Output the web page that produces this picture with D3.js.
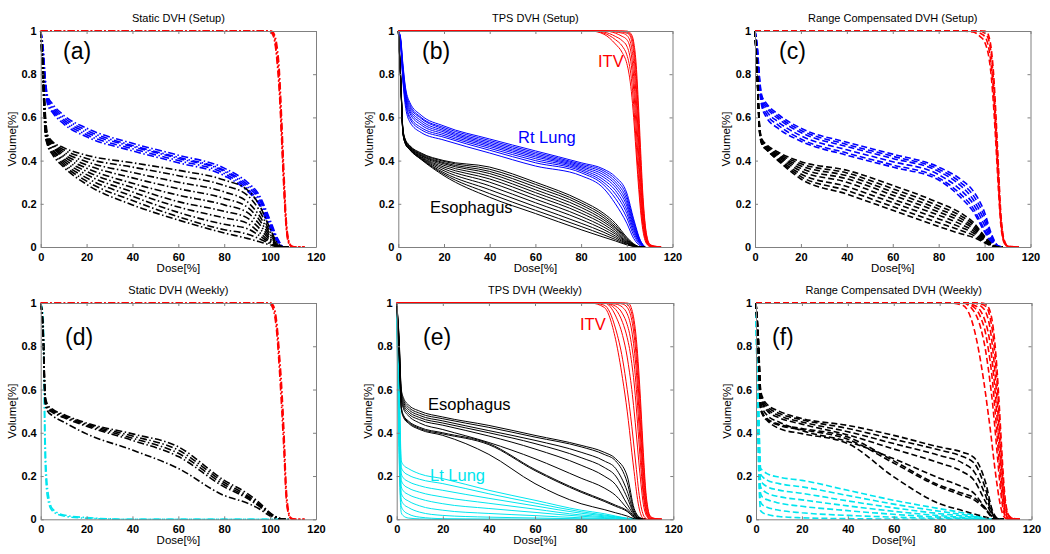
<!DOCTYPE html>
<html><head><meta charset="utf-8">
<script src="https://cdn.jsdelivr.net/npm/d3@7/dist/d3.min.js"></script>
<style>body{margin:0;background:#fff}svg{display:block}</style>
</head><body>
<svg id="chart" width="1050" height="554"></svg>
<script>
// ---------------- DATA ----------------
const xTicks = [0, 20, 40, 60, 80, 100, 120];
const yTicks = [0, 0.2, 0.4, 0.6, 0.8, 1];
const xLabel = "Dose[%]";
const yLabel = "Volume[%]";
const titles = ["Static DVH (Setup)", "TPS DVH (Setup)", "Range Compensated DVH (Setup)",
                "Static DVH (Weekly)", "TPS DVH (Weekly)", "Range Compensated DVH (Weekly)"];
const panelLabels = ["(a)", "(b)", "(c)", "(d)", "(e)", "(f)"];

// dose sampling for organs at risk and for ITV
const oarDose = [0, 1, 2, 3, 5, 10, 20, 40, 60, 80, 90, 95, 100, 103, 106, 108];
const itvDose = [0, 84, 90, 95, 98, 100, 101, 102, 103, 104, 105, 106, 107, 108, 109, 110, 112, 115];

// (a) Static DVH (Setup)
const lungA = [
  [1, 0.93, 0.78, 0.70, 0.665, 0.61, 0.55, 0.48, 0.425, 0.365, 0.30, 0.245, 0.125, 0.045, 0, 0],
  [1, 0.92, 0.77, 0.69, 0.655, 0.60, 0.54, 0.47, 0.415, 0.355, 0.29, 0.235, 0.115, 0.04, 0, 0],
  [1, 0.91, 0.76, 0.68, 0.645, 0.59, 0.53, 0.465, 0.41, 0.35, 0.28, 0.225, 0.105, 0.035, 0, 0],
  [1, 0.90, 0.75, 0.67, 0.635, 0.58, 0.52, 0.455, 0.40, 0.34, 0.27, 0.21, 0.095, 0.03, 0, 0],
  [1, 0.89, 0.74, 0.66, 0.625, 0.57, 0.51, 0.445, 0.39, 0.33, 0.26, 0.20, 0.085, 0.025, 0, 0]
];
const esoA = [
  [1, 0.85, 0.62, 0.52, 0.49, 0.46, 0.425, 0.39, 0.355, 0.31, 0.265, 0.2, 0.085, 0.02, 0, 0],
  [1, 0.84, 0.60, 0.51, 0.485, 0.45, 0.41, 0.37, 0.33, 0.285, 0.24, 0.175, 0.07, 0.015, 0, 0],
  [1, 0.83, 0.59, 0.505, 0.48, 0.44, 0.395, 0.345, 0.30, 0.255, 0.21, 0.15, 0.06, 0.012, 0, 0],
  [1, 0.82, 0.58, 0.50, 0.475, 0.43, 0.38, 0.32, 0.27, 0.225, 0.185, 0.13, 0.05, 0.01, 0, 0],
  [1, 0.81, 0.57, 0.495, 0.47, 0.42, 0.365, 0.295, 0.24, 0.195, 0.16, 0.11, 0.04, 0.008, 0, 0],
  [1, 0.80, 0.56, 0.49, 0.465, 0.41, 0.35, 0.275, 0.21, 0.165, 0.135, 0.09, 0.032, 0.006, 0, 0],
  [1, 0.79, 0.55, 0.485, 0.455, 0.40, 0.335, 0.255, 0.185, 0.135, 0.11, 0.07, 0.025, 0.005, 0, 0],
  [1, 0.78, 0.54, 0.48, 0.45, 0.39, 0.32, 0.235, 0.16, 0.105, 0.085, 0.055, 0.02, 0.004, 0, 0],
  [1, 0.77, 0.53, 0.475, 0.44, 0.38, 0.305, 0.215, 0.14, 0.08, 0.06, 0.04, 0.015, 0.003, 0, 0],
  [1, 0.76, 0.52, 0.47, 0.43, 0.37, 0.29, 0.195, 0.125, 0.065, 0.04, 0.025, 0.01, 0.002, 0, 0]
];
const itvA = [
  [1, 1, 1, 1, 1, 1, 0.995, 0.97, 0.9, 0.78, 0.55, 0.3, 0.1, 0.025, 0.005, 0, 0, 0],
  [1, 1, 1, 1, 1, 0.995, 0.985, 0.95, 0.86, 0.72, 0.5, 0.27, 0.09, 0.02, 0.004, 0, 0, 0],
  [1, 1, 1, 1, 1, 1, 0.998, 0.98, 0.93, 0.82, 0.6, 0.35, 0.13, 0.035, 0.008, 0.002, 0, 0],
  [1, 1, 1, 1, 1, 0.998, 0.99, 0.96, 0.88, 0.75, 0.53, 0.29, 0.11, 0.03, 0.006, 0.001, 0, 0]
];

// (b) TPS DVH (Setup)
const lungB = [
  [1, 0.97, 0.85, 0.75, 0.67, 0.61, 0.56, 0.50, 0.445, 0.39, 0.36, 0.325, 0.25, 0.13, 0.03, 0],
  [1, 0.965, 0.84, 0.74, 0.66, 0.60, 0.553, 0.493, 0.438, 0.384, 0.352, 0.314, 0.235, 0.12, 0.027, 0],
  [1, 0.96, 0.83, 0.73, 0.65, 0.595, 0.546, 0.486, 0.431, 0.378, 0.343, 0.302, 0.22, 0.11, 0.024, 0],
  [1, 0.957, 0.82, 0.72, 0.64, 0.585, 0.539, 0.479, 0.424, 0.372, 0.333, 0.29, 0.205, 0.1, 0.021, 0],
  [1, 0.953, 0.81, 0.71, 0.63, 0.575, 0.532, 0.472, 0.417, 0.366, 0.322, 0.277, 0.19, 0.09, 0.018, 0],
  [1, 0.95, 0.80, 0.70, 0.62, 0.565, 0.524, 0.465, 0.409, 0.359, 0.31, 0.262, 0.172, 0.08, 0.015, 0],
  [1, 0.947, 0.79, 0.69, 0.605, 0.553, 0.516, 0.457, 0.400, 0.352, 0.298, 0.245, 0.155, 0.068, 0.012, 0],
  [1, 0.944, 0.78, 0.68, 0.595, 0.543, 0.508, 0.448, 0.390, 0.344, 0.286, 0.225, 0.135, 0.055, 0.009, 0],
  [1, 0.94, 0.77, 0.66, 0.58, 0.53, 0.495, 0.435, 0.375, 0.33, 0.27, 0.2, 0.11, 0.04, 0.005, 0]
];
const esoB = [
  [1, 0.8, 0.55, 0.5, 0.47, 0.435, 0.40, 0.37, 0.30, 0.215, 0.155, 0.11, 0.045, 0.015, 0, 0],
  [1, 0.8, 0.548, 0.498, 0.468, 0.432, 0.396, 0.36, 0.29, 0.205, 0.145, 0.10, 0.04, 0.013, 0, 0],
  [1, 0.8, 0.545, 0.495, 0.465, 0.428, 0.39, 0.35, 0.278, 0.195, 0.135, 0.092, 0.036, 0.011, 0, 0],
  [1, 0.795, 0.543, 0.493, 0.463, 0.425, 0.385, 0.34, 0.265, 0.183, 0.125, 0.085, 0.032, 0.01, 0, 0],
  [1, 0.79, 0.54, 0.49, 0.46, 0.422, 0.378, 0.328, 0.252, 0.17, 0.115, 0.077, 0.028, 0.009, 0, 0],
  [1, 0.79, 0.538, 0.488, 0.458, 0.418, 0.37, 0.315, 0.238, 0.157, 0.104, 0.068, 0.024, 0.008, 0, 0],
  [1, 0.785, 0.536, 0.486, 0.456, 0.415, 0.362, 0.3, 0.222, 0.142, 0.092, 0.06, 0.021, 0.006, 0, 0],
  [1, 0.785, 0.534, 0.484, 0.454, 0.412, 0.353, 0.283, 0.205, 0.127, 0.08, 0.051, 0.018, 0.005, 0, 0],
  [1, 0.78, 0.532, 0.482, 0.452, 0.409, 0.344, 0.265, 0.187, 0.11, 0.068, 0.043, 0.015, 0.004, 0, 0],
  [1, 0.78, 0.531, 0.481, 0.451, 0.407, 0.337, 0.247, 0.17, 0.095, 0.056, 0.035, 0.012, 0.003, 0, 0],
  [1, 0.78, 0.53, 0.48, 0.45, 0.405, 0.33, 0.23, 0.155, 0.08, 0.045, 0.028, 0.01, 0.003, 0, 0]
];
const itvB = [
  [1, 1, 0.985, 0.94, 0.9, 0.85, 0.8, 0.72, 0.6, 0.45, 0.3, 0.17, 0.08, 0.03, 0.01, 0.003, 0, 0],
  [1, 1, 0.99, 0.96, 0.93, 0.89, 0.85, 0.78, 0.66, 0.5, 0.34, 0.2, 0.1, 0.04, 0.013, 0.004, 0.001, 0],
  [1, 1, 0.995, 0.975, 0.955, 0.93, 0.9, 0.84, 0.73, 0.57, 0.4, 0.24, 0.12, 0.05, 0.017, 0.005, 0.001, 0],
  [1, 1, 1, 0.99, 0.975, 0.96, 0.94, 0.89, 0.79, 0.64, 0.46, 0.28, 0.14, 0.06, 0.02, 0.006, 0.002, 0],
  [1, 1, 1, 0.995, 0.99, 0.98, 0.965, 0.93, 0.85, 0.71, 0.52, 0.32, 0.16, 0.07, 0.025, 0.008, 0.002, 0],
  [1, 1, 1, 1, 0.995, 0.99, 0.985, 0.96, 0.9, 0.77, 0.58, 0.37, 0.19, 0.08, 0.03, 0.01, 0.003, 0.001],
  [1, 1, 1, 1, 1, 0.995, 0.99, 0.975, 0.93, 0.82, 0.63, 0.41, 0.22, 0.1, 0.035, 0.012, 0.004, 0.001],
  [1, 1, 1, 1, 1, 1, 0.995, 0.985, 0.95, 0.86, 0.68, 0.46, 0.25, 0.11, 0.04, 0.014, 0.004, 0.001]
];

// (c) Range Compensated DVH (Setup)
const lungC = [
  [1, 0.93, 0.78, 0.70, 0.665, 0.615, 0.55, 0.485, 0.43, 0.37, 0.31, 0.26, 0.16, 0.06, 0.005, 0],
  [1, 0.92, 0.77, 0.69, 0.655, 0.605, 0.54, 0.475, 0.42, 0.36, 0.295, 0.24, 0.14, 0.05, 0.004, 0],
  [1, 0.91, 0.76, 0.68, 0.645, 0.595, 0.53, 0.465, 0.41, 0.35, 0.28, 0.22, 0.12, 0.04, 0.003, 0],
  [1, 0.90, 0.75, 0.67, 0.63, 0.58, 0.515, 0.45, 0.395, 0.335, 0.26, 0.2, 0.1, 0.03, 0.002, 0],
  [1, 0.89, 0.74, 0.66, 0.615, 0.565, 0.50, 0.435, 0.38, 0.32, 0.24, 0.18, 0.08, 0.025, 0.001, 0],
  [1, 0.88, 0.73, 0.65, 0.60, 0.55, 0.49, 0.425, 0.37, 0.31, 0.225, 0.165, 0.07, 0.02, 0, 0]
];
const esoC = [
  [1, 0.8, 0.56, 0.5, 0.475, 0.44, 0.395, 0.355, 0.285, 0.205, 0.155, 0.115, 0.05, 0.015, 0, 0],
  [1, 0.795, 0.555, 0.495, 0.47, 0.433, 0.385, 0.343, 0.27, 0.19, 0.142, 0.105, 0.045, 0.013, 0, 0],
  [1, 0.79, 0.55, 0.49, 0.465, 0.427, 0.375, 0.33, 0.255, 0.176, 0.13, 0.095, 0.04, 0.012, 0, 0],
  [1, 0.79, 0.545, 0.487, 0.462, 0.422, 0.364, 0.316, 0.24, 0.162, 0.118, 0.086, 0.036, 0.01, 0, 0],
  [1, 0.785, 0.54, 0.484, 0.458, 0.416, 0.352, 0.3, 0.222, 0.147, 0.104, 0.076, 0.032, 0.009, 0, 0],
  [1, 0.785, 0.537, 0.481, 0.455, 0.41, 0.338, 0.28, 0.205, 0.13, 0.09, 0.066, 0.028, 0.008, 0, 0],
  [1, 0.78, 0.533, 0.478, 0.452, 0.405, 0.326, 0.262, 0.187, 0.112, 0.075, 0.055, 0.024, 0.006, 0, 0],
  [1, 0.78, 0.53, 0.475, 0.45, 0.40, 0.315, 0.245, 0.17, 0.095, 0.06, 0.045, 0.02, 0.005, 0, 0]
];
const itvC = [
  [1, 1, 1, 0.995, 0.975, 0.95, 0.92, 0.87, 0.78, 0.64, 0.46, 0.27, 0.11, 0.035, 0.01, 0.002, 0, 0],
  [1, 1, 1, 1, 0.99, 0.975, 0.955, 0.91, 0.83, 0.7, 0.51, 0.31, 0.13, 0.045, 0.013, 0.003, 0, 0],
  [1, 1, 1, 1, 1, 0.99, 0.98, 0.95, 0.88, 0.75, 0.56, 0.35, 0.15, 0.05, 0.015, 0.004, 0.001, 0],
  [1, 1, 1, 1, 1, 1, 0.995, 0.97, 0.91, 0.79, 0.6, 0.38, 0.17, 0.06, 0.02, 0.006, 0.002, 0]
];

// (d) Static DVH (Weekly)
const lungD = [
  [1, 0.95, 0.35, 0.14, 0.05, 0.02, 0.008, 0, 0, 0, 0, 0, 0, 0, 0, 0],
  [1, 0.9, 0.25, 0.1, 0.04, 0.015, 0.005, 0, 0, 0, 0, 0, 0, 0, 0, 0]
];
const esoD = [
  [1, 0.9, 0.57, 0.53, 0.51, 0.485, 0.445, 0.395, 0.335, 0.18, 0.12, 0.08, 0.03, 0.01, 0, 0],
  [1, 0.89, 0.56, 0.52, 0.505, 0.48, 0.44, 0.385, 0.32, 0.17, 0.11, 0.073, 0.027, 0.008, 0, 0],
  [1, 0.88, 0.55, 0.515, 0.5, 0.475, 0.435, 0.375, 0.305, 0.16, 0.103, 0.067, 0.024, 0.007, 0, 0],
  [1, 0.87, 0.545, 0.51, 0.495, 0.47, 0.43, 0.365, 0.29, 0.15, 0.097, 0.062, 0.022, 0.006, 0, 0],
  [1, 0.85, 0.53, 0.5, 0.48, 0.45, 0.395, 0.32, 0.235, 0.11, 0.075, 0.05, 0.015, 0.004, 0, 0]
];
const itvD = [
  [1, 1, 1, 1, 1, 1, 0.99, 0.96, 0.88, 0.74, 0.58, 0.37, 0.12, 0.03, 0.004, 0, 0, 0],
  [1, 1, 1, 1, 1, 0.995, 0.98, 0.94, 0.85, 0.7, 0.52, 0.32, 0.1, 0.025, 0.003, 0, 0, 0],
  [1, 1, 1, 1, 1, 1, 0.995, 0.97, 0.9, 0.77, 0.62, 0.41, 0.15, 0.04, 0.008, 0.002, 0, 0]
];

// (e) TPS DVH (Weekly)
const lungE = [
  [1, 0.7, 0.27, 0.25, 0.235, 0.21, 0.188, 0.134, 0.088, 0.042, 0.026, 0.015, 0.005, 0, 0, 0],
  [1, 0.65, 0.24, 0.22, 0.205, 0.185, 0.165, 0.118, 0.075, 0.035, 0.02, 0.012, 0.004, 0, 0, 0],
  [1, 0.6, 0.21, 0.19, 0.175, 0.155, 0.134, 0.097, 0.062, 0.028, 0.016, 0.01, 0.003, 0, 0, 0],
  [1, 0.55, 0.18, 0.16, 0.145, 0.125, 0.103, 0.074, 0.047, 0.02, 0.012, 0.007, 0.002, 0, 0, 0],
  [1, 0.5, 0.15, 0.13, 0.115, 0.095, 0.072, 0.05, 0.032, 0.014, 0.008, 0.005, 0.001, 0, 0, 0],
  [1, 0.45, 0.12, 0.1, 0.085, 0.062, 0.042, 0.027, 0.017, 0.007, 0.004, 0.002, 0, 0, 0, 0],
  [1, 0.4, 0.09, 0.07, 0.055, 0.033, 0.018, 0.01, 0.006, 0.002, 0.001, 0, 0, 0, 0, 0],
  [1, 0.35, 0.06, 0.04, 0.025, 0.01, 0.003, 0.001, 0, 0, 0, 0, 0, 0, 0, 0],
  [1, 0.3, 0.03, 0.015, 0.006, 0.002, 0, 0, 0, 0, 0, 0, 0, 0, 0, 0]
];
const esoE = [
  [1, 0.85, 0.6, 0.56, 0.53, 0.5, 0.473, 0.434, 0.388, 0.342, 0.31, 0.28, 0.2, 0.05, 0.005, 0],
  [1, 0.84, 0.59, 0.55, 0.52, 0.49, 0.465, 0.425, 0.38, 0.335, 0.30, 0.27, 0.17, 0.04, 0.004, 0],
  [1, 0.83, 0.58, 0.54, 0.51, 0.48, 0.455, 0.41, 0.365, 0.31, 0.27, 0.235, 0.13, 0.03, 0.003, 0],
  [1, 0.82, 0.57, 0.53, 0.50, 0.47, 0.445, 0.40, 0.35, 0.285, 0.24, 0.2, 0.1, 0.025, 0.002, 0],
  [1, 0.81, 0.56, 0.52, 0.49, 0.46, 0.435, 0.385, 0.325, 0.25, 0.2, 0.16, 0.07, 0.02, 0.002, 0],
  [1, 0.8, 0.55, 0.51, 0.48, 0.445, 0.415, 0.355, 0.28, 0.19, 0.145, 0.11, 0.05, 0.015, 0.001, 0],
  [1, 0.78, 0.52, 0.48, 0.455, 0.425, 0.40, 0.35, 0.23, 0.13, 0.088, 0.065, 0.04, 0.01, 0, 0],
  [1, 0.78, 0.515, 0.475, 0.45, 0.42, 0.395, 0.345, 0.225, 0.125, 0.083, 0.06, 0.036, 0.009, 0, 0],
  [1, 0.77, 0.51, 0.47, 0.445, 0.415, 0.388, 0.30, 0.165, 0.072, 0.045, 0.03, 0.015, 0.003, 0, 0]
];
const itvE = [
  [1, 1, 0.98, 0.83, 0.65, 0.5, 0.41, 0.31, 0.22, 0.13, 0.06, 0.02, 0.003, 0, 0, 0, 0, 0],
  [1, 1, 0.99, 0.88, 0.74, 0.6, 0.52, 0.43, 0.33, 0.23, 0.13, 0.06, 0.02, 0.005, 0, 0, 0, 0],
  [1, 1, 1, 0.94, 0.85, 0.75, 0.68, 0.6, 0.5, 0.39, 0.27, 0.16, 0.07, 0.025, 0.006, 0, 0, 0],
  [1, 1, 1, 0.97, 0.91, 0.84, 0.79, 0.72, 0.63, 0.51, 0.37, 0.23, 0.11, 0.04, 0.01, 0.002, 0, 0],
  [1, 1, 1, 0.985, 0.95, 0.9, 0.86, 0.8, 0.72, 0.6, 0.45, 0.29, 0.14, 0.05, 0.015, 0.004, 0, 0],
  [1, 1, 1, 0.995, 0.98, 0.95, 0.92, 0.87, 0.79, 0.68, 0.52, 0.35, 0.18, 0.07, 0.02, 0.005, 0.001, 0],
  [1, 1, 1, 1, 0.995, 0.98, 0.96, 0.92, 0.85, 0.74, 0.58, 0.4, 0.22, 0.09, 0.03, 0.008, 0.002, 0],
  [1, 1, 1, 1, 1, 0.995, 0.98, 0.95, 0.89, 0.79, 0.64, 0.46, 0.27, 0.12, 0.04, 0.012, 0.003, 0],
  [1, 1, 1, 1, 1, 1, 0.995, 0.97, 0.92, 0.83, 0.69, 0.51, 0.31, 0.14, 0.05, 0.015, 0.004, 0]
];

// (f) Range Compensated DVH (Weekly)
const lungF = [
  [1, 0.6, 0.237, 0.225, 0.21, 0.195, 0.18, 0.134, 0.088, 0.049, 0.03, 0.018, 0.005, 0, 0, 0],
  [1, 0.55, 0.21, 0.195, 0.18, 0.165, 0.15, 0.11, 0.07, 0.037, 0.022, 0.013, 0.003, 0, 0, 0],
  [1, 0.5, 0.18, 0.165, 0.15, 0.135, 0.12, 0.085, 0.053, 0.026, 0.015, 0.008, 0.002, 0, 0, 0],
  [1, 0.45, 0.15, 0.135, 0.12, 0.105, 0.09, 0.062, 0.037, 0.017, 0.009, 0.005, 0.001, 0, 0, 0],
  [1, 0.4, 0.12, 0.1, 0.09, 0.075, 0.06, 0.04, 0.023, 0.01, 0.005, 0.002, 0, 0, 0, 0],
  [1, 0.35, 0.08, 0.065, 0.055, 0.042, 0.03, 0.018, 0.01, 0.004, 0.002, 0, 0, 0, 0, 0],
  [1, 0.3, 0.04, 0.03, 0.022, 0.013, 0.007, 0.003, 0.001, 0, 0, 0, 0, 0, 0, 0]
];
const esoF = [
  [1, 0.85, 0.6, 0.56, 0.53, 0.5, 0.466, 0.434, 0.388, 0.334, 0.31, 0.285, 0.17, 0.04, 0, 0],
  [1, 0.84, 0.59, 0.55, 0.52, 0.49, 0.46, 0.42, 0.37, 0.32, 0.29, 0.26, 0.14, 0.03, 0, 0],
  [1, 0.83, 0.58, 0.54, 0.51, 0.48, 0.45, 0.405, 0.35, 0.295, 0.26, 0.22, 0.11, 0.025, 0, 0],
  [1, 0.82, 0.57, 0.53, 0.50, 0.47, 0.44, 0.39, 0.325, 0.26, 0.22, 0.18, 0.08, 0.02, 0, 0],
  [1, 0.8, 0.55, 0.51, 0.48, 0.45, 0.41, 0.36, 0.28, 0.19, 0.15, 0.12, 0.05, 0.012, 0, 0],
  [1, 0.78, 0.52, 0.49, 0.465, 0.44, 0.42, 0.38, 0.27, 0.157, 0.12, 0.1, 0.05, 0.01, 0, 0],
  [1, 0.78, 0.515, 0.485, 0.46, 0.435, 0.415, 0.37, 0.26, 0.15, 0.11, 0.09, 0.045, 0.008, 0, 0],
  [1, 0.77, 0.51, 0.48, 0.455, 0.42, 0.396, 0.35, 0.196, 0.072, 0.04, 0.025, 0.01, 0.002, 0, 0]
];
const itvF = [
  [1, 1, 0.99, 0.88, 0.72, 0.58, 0.5, 0.42, 0.33, 0.24, 0.16, 0.09, 0.04, 0.012, 0.003, 0, 0, 0],
  [1, 1, 1, 0.96, 0.88, 0.78, 0.71, 0.63, 0.54, 0.43, 0.31, 0.19, 0.09, 0.03, 0.008, 0, 0, 0],
  [1, 1, 1, 0.98, 0.93, 0.86, 0.8, 0.73, 0.64, 0.52, 0.39, 0.25, 0.13, 0.05, 0.015, 0.003, 0, 0],
  [1, 1, 1, 0.99, 0.96, 0.91, 0.87, 0.81, 0.72, 0.61, 0.47, 0.32, 0.18, 0.07, 0.02, 0.005, 0.001, 0],
  [1, 1, 1, 1, 0.985, 0.96, 0.93, 0.88, 0.8, 0.69, 0.55, 0.39, 0.23, 0.1, 0.035, 0.01, 0.002, 0],
  [1, 1, 1, 1, 0.995, 0.985, 0.97, 0.93, 0.87, 0.77, 0.63, 0.46, 0.28, 0.13, 0.05, 0.015, 0.003, 0],
  [1, 1, 1, 1, 1, 0.995, 0.985, 0.96, 0.91, 0.82, 0.69, 0.52, 0.33, 0.16, 0.06, 0.02, 0.004, 0]
];

// annotations (text only)
const notesB = [["ITV", "itv"], ["Rt Lung", "rlung"], ["Esophagus", "eso"]];
const notesE = [["ITV", "itv"], ["Esophagus", "eso"], ["Lt Lung", "llung"]];

// ---------------- LAYOUT / STYLE ----------------
const FONT = "'Liberation Sans', Arial, sans-serif";
const colors = { itv: "#ff0000", rlung: "#0000ff", llung: "#00e5ee", eso: "#000000" };
const dashes = { dashdot: "7,2.5,1.5,2.5", solid: null, dashed: "6,3" };
const widths = { dashdot: 1.6, solid: 1.0, dashed: 1.6 };

const panels = [
  { x0: 40.7, x1: 316, y0: 31, y1: 247, style: "dashdot", lung: lungA, lungKey: "rlung", eso: esoA, itv: itvA, lx: 63, ly: 59 },
  { x0: 398.3, x1: 672.5, y0: 31, y1: 247, style: "solid", lung: lungB, lungKey: "rlung", eso: esoB, itv: itvB, lx: 422, ly: 59,
    notes: notesB, notePos: [[598, 67], [518, 143], [430, 213]] },
  { x0: 755, x1: 1030.5, y0: 31, y1: 247, style: "dashed", lung: lungC, lungKey: "rlung", eso: esoC, itv: itvC, lx: 779, ly: 59 },
  { x0: 40.7, x1: 316, y0: 303, y1: 519.3, style: "dashdot", lung: lungD, lungKey: "llung", eso: esoD, itv: itvD, lx: 65, ly: 345 },
  { x0: 396.7, x1: 673.3, y0: 303, y1: 519.3, style: "solid", lung: lungE, lungKey: "llung", eso: esoE, itv: itvE, lx: 423, ly: 345,
    notes: notesE, notePos: [[580, 330], [428, 410], [430, 481]] },
  { x0: 756, x1: 1031.5, y0: 303, y1: 519.3, style: "dashed", lung: lungF, lungKey: "llung", eso: esoF, itv: itvF, lx: 772, ly: 345 }
];

const svg = d3.select("#chart");
svg.append("rect").attr("width", 1050).attr("height", 554).attr("fill", "#fff");

panels.forEach((p, i) => {
  const x = d3.scaleLinear().domain([0, 120]).range([p.x0, p.x1]);
  const y = d3.scaleLinear().domain([0, 1]).range([p.y1, p.y0]);
  const g = svg.append("g");

  g.append("clipPath").attr("id", "clip" + i).append("rect")
    .attr("x", p.x0 - 1).attr("y", p.y0 - 1.5)
    .attr("width", p.x1 - p.x0 + 2).attr("height", p.y1 - p.y0 + 2.5);

  const plot = g.append("g").attr("clip-path", `url(#clip${i})`);
  const mkLine = grid => d3.line()
    .x((d, j) => x(grid[j])).y(d => y(d))
    .curve(d3.curveMonotoneX);

  const drawSet = (set, grid, color) => {
    plot.append("g").selectAll("path").data(set).join("path")
      .attr("d", mkLine(grid))
      .attr("fill", "none")
      .attr("stroke", color)
      .attr("stroke-width", widths[p.style])
      .attr("stroke-dasharray", dashes[p.style])
      .attr("stroke-linejoin", "round");
  };
  drawSet(p.lung, oarDose, colors[p.lungKey]);
  drawSet(p.eso, oarDose, colors.eso);
  drawSet(p.itv, itvDose, colors.itv);

  // axes (ticks inward, box on)
  const axisColor = "#808080";
  const styleAxis = sel => {
    sel.selectAll("path.domain").attr("stroke", axisColor).attr("stroke-width", 1);
    sel.selectAll(".tick line").attr("stroke", axisColor);
    sel.selectAll(".tick text")
      .attr("fill", "#000")
      .style("font-family", FONT).style("font-size", "11px").style("font-weight", "bold");
  };
  const fmtY = d => (d === 0 ? "0" : d === 1 ? "1" : d3.format(".1f")(d));
  g.append("g").attr("transform", `translate(0,${p.y1})`)
    .call(d3.axisBottom(x).tickValues(xTicks).tickSizeInner(-3).tickSizeOuter(0).tickPadding(6).tickFormat(d3.format("d")))
    .call(styleAxis);
  g.append("g").attr("transform", `translate(0,${p.y0})`)
    .call(d3.axisTop(x).tickValues(xTicks).tickSizeInner(-3).tickSizeOuter(0).tickFormat(""))
    .call(styleAxis);
  g.append("g").attr("transform", `translate(${p.x0},0)`)
    .call(d3.axisLeft(y).tickValues(yTicks).tickSizeInner(-3).tickSizeOuter(0).tickPadding(4).tickFormat(fmtY))
    .call(styleAxis);
  g.append("g").attr("transform", `translate(${p.x1},0)`)
    .call(d3.axisRight(y).tickValues(yTicks).tickSizeInner(-3).tickSizeOuter(0).tickFormat(""))
    .call(styleAxis);

  // title
  g.append("text").attr("x", (p.x0 + p.x1) / 2).attr("y", p.y0 - 9)
    .attr("text-anchor", "middle").style("font-family", FONT).style("font-size", "11px")
    .text(titles[i]);
  // axis labels
  g.append("text").attr("x", (p.x0 + p.x1) / 2).attr("y", p.y1 + 25)
    .attr("text-anchor", "middle").style("font-family", FONT).style("font-size", "11.5px")
    .text(xLabel);
  g.append("text").attr("transform", `translate(${p.x0 - 25},${(p.y0 + p.y1) / 2}) rotate(-90)`)
    .attr("text-anchor", "middle").style("font-family", FONT).style("font-size", "11.5px")
    .text(yLabel);
  // panel label
  g.append("text").attr("x", p.lx).attr("y", p.ly)
    .style("font-family", FONT).style("font-size", "23px")
    .text(panelLabels[i]);
  // annotations
  if (p.notes) {
    p.notes.forEach((n, k) => {
      g.append("text").attr("x", p.notePos[k][0]).attr("y", p.notePos[k][1])
        .attr("fill", colors[n[1]])
        .style("font-family", FONT).style("font-size", "16.5px")
        .text(n[0]);
    });
  }
});
</script>
</body></html>
